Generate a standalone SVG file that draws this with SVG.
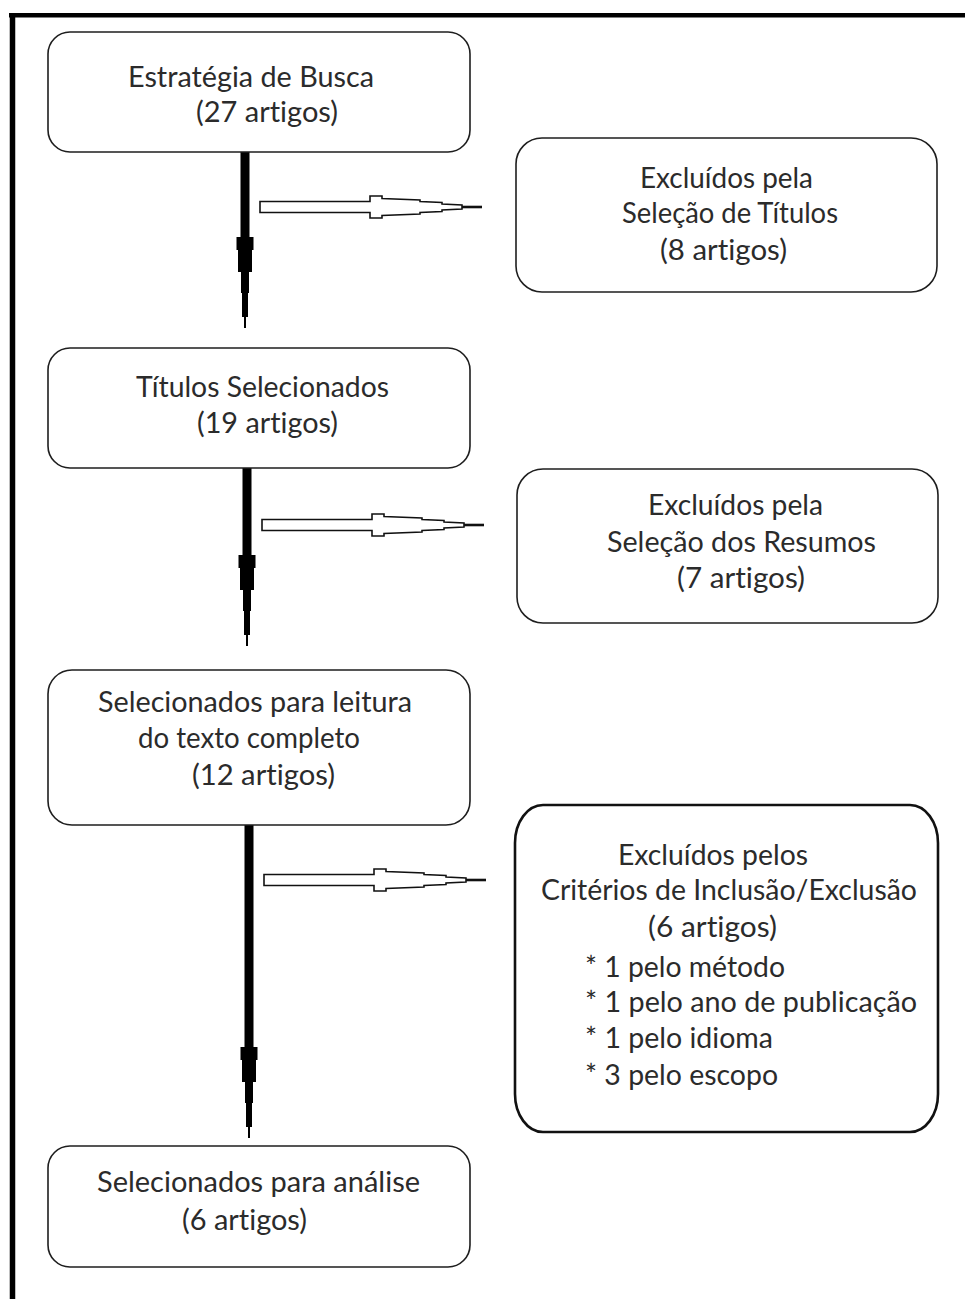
<svg xmlns="http://www.w3.org/2000/svg" xmlns:xlink="http://www.w3.org/1999/xlink" width="965" height="1299" viewBox="0 0 965 1299">
<style>
.box{fill:#ffffff;stroke:#1e1e1e;stroke-width:1.6}
.box6{fill:#ffffff;stroke:#111111;stroke-width:2.6}
.t{font-family:Lato,"Liberation Sans",sans-serif;font-size:28px;fill:#2b2b2b;font-variant-ligatures:none;font-feature-settings:"liga" 0,"clig" 0}
.shaft{fill:#000000}
.hollow{fill:#ffffff;stroke:#111111;stroke-width:1.6;stroke-linejoin:miter}
.tip{stroke:#111111;stroke-width:2.6;fill:none}
.frame{stroke:#000000;fill:none}
</style>
<defs>
<path id="vhead" d="M-8.5,0 H8.5 V13 H7 V35 H4 V56 H3 V80 H1 V91 H-1 V80 H-3 V56 H-4 V35 H-7 V13 H-8.5 Z"/>
<g id="harrow">
<path class="hollow" d="M0,-5.5 H110 V-11 H122 V-8.5 L160,-7 V-5.5 L182,-4.5 V-3 L202,-2 V2 L182,3 V4.5 L160,5.5 V7 L122,8.5 V11 H110 V5.5 H0 Z"/>
<path class="tip" d="M202,0 H222"/>
</g>
</defs>
<rect width="965" height="1299" fill="#ffffff"/>
<g id="frame">
<line class="frame" x1="9" y1="15.2" x2="965" y2="15.2" stroke-width="4.5"/>
<line class="frame" x1="12.5" y1="13" x2="12.5" y2="1299" stroke-width="5.5"/>
</g>
<g id="connectors">
<rect class="shaft" x="240.5" y="152" width="9" height="86"/>
<use xlink:href="#vhead" href="#vhead" x="245" y="237" class="shaft"/>
<rect class="shaft" x="242.5" y="468" width="9" height="88"/>
<use xlink:href="#vhead" href="#vhead" x="247" y="555" class="shaft"/>
<rect class="shaft" x="244.5" y="825" width="9" height="223"/>
<use xlink:href="#vhead" href="#vhead" x="249" y="1047" class="shaft"/>
<use xlink:href="#harrow" href="#harrow" x="260" y="207"/>
<use xlink:href="#harrow" href="#harrow" x="262" y="525"/>
<use xlink:href="#harrow" href="#harrow" x="264" y="880"/>
</g>
<g id="n1">
<rect class="box" x="48" y="32" width="422" height="120" rx="22" ry="22"/>
<text class="t" x="128" y="87" textLength="246" lengthAdjust="spacingAndGlyphs">Estratégia de Busca</text>
<text class="t" x="196" y="122" textLength="142" lengthAdjust="spacingAndGlyphs">(27 artigos)</text>
</g>
<g id="n2">
<rect class="box" x="516" y="138" width="421" height="154" rx="26" ry="26"/>
<text class="t" x="640" y="188" textLength="173" lengthAdjust="spacingAndGlyphs">Excluídos pela</text>
<text class="t" x="622" y="223" textLength="216" lengthAdjust="spacingAndGlyphs">Seleção de Títulos</text>
<text class="t" x="660" y="260" textLength="127" lengthAdjust="spacingAndGlyphs">(8 artigos)</text>
</g>
<g id="n3">
<rect class="box" x="48" y="348" width="422" height="120" rx="22" ry="22"/>
<text class="t" x="136" y="397" textLength="253" lengthAdjust="spacingAndGlyphs">Títulos Selecionados</text>
<text class="t" x="197" y="433" textLength="141" lengthAdjust="spacingAndGlyphs">(19 artigos)</text>
</g>
<g id="n4">
<rect class="box" x="517" y="469" width="421" height="154" rx="26" ry="26"/>
<text class="t" x="648" y="515" textLength="175" lengthAdjust="spacingAndGlyphs">Excluídos pela</text>
<text class="t" x="607" y="552" textLength="269" lengthAdjust="spacingAndGlyphs">Seleção dos Resumos</text>
<text class="t" x="677" y="588" textLength="128" lengthAdjust="spacingAndGlyphs">(7 artigos)</text>
</g>
<g id="n5">
<rect class="box" x="48" y="670" width="422" height="155" rx="24" ry="24"/>
<text class="t" x="98" y="712" textLength="314" lengthAdjust="spacingAndGlyphs">Selecionados para leitura</text>
<text class="t" x="138" y="748" textLength="222" lengthAdjust="spacingAndGlyphs">do texto completo</text>
<text class="t" x="192" y="785" textLength="143" lengthAdjust="spacingAndGlyphs">(12 artigos)</text>
</g>
<g id="n6">
<rect class="box6" x="515" y="805" width="423" height="327" rx="28" ry="38"/>
<text class="t" x="618" y="865" textLength="190" lengthAdjust="spacingAndGlyphs">Excluídos pelos</text>
<text class="t" x="541" y="900" textLength="376" lengthAdjust="spacingAndGlyphs">Critérios de Inclusão/Exclusão</text>
<text class="t" x="648" y="937" textLength="129" lengthAdjust="spacingAndGlyphs">(6 artigos)</text>
<text class="t" x="585" y="977" textLength="200" lengthAdjust="spacingAndGlyphs">* 1 pelo método</text>
<text class="t" x="585" y="1012" textLength="332" lengthAdjust="spacingAndGlyphs">* 1 pelo ano de publicação</text>
<text class="t" x="585" y="1048" textLength="188" lengthAdjust="spacingAndGlyphs">* 1 pelo idioma</text>
<text class="t" x="585" y="1085" textLength="193" lengthAdjust="spacingAndGlyphs">* 3 pelo escopo</text>
</g>
<g id="n7">
<rect class="box" x="48" y="1146" width="422" height="121" rx="22" ry="22"/>
<text class="t" x="97" y="1192" textLength="323" lengthAdjust="spacingAndGlyphs">Selecionados para análise</text>
<text class="t" x="182" y="1230" textLength="125" lengthAdjust="spacingAndGlyphs">(6 artigos)</text>
</g>
</svg>
